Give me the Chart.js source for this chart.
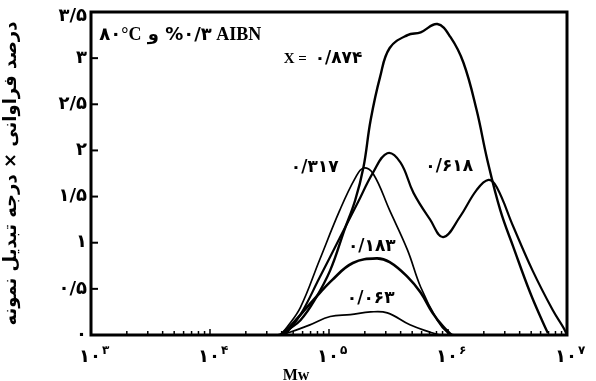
<!DOCTYPE html>
<html>
<head>
<meta charset="utf-8">
<script src="https://cdn.jsdelivr.net/npm/chart.js@4"></script>
<style>
  html, body { margin: 0; padding: 0; background: #fff; }
  #wrap { width: 596px; height: 381px; }
</style>
</head>
<body>
<div id="wrap"><canvas id="mwChart" width="596" height="381"></canvas></div>
<script>
// log10(Mw) and (frequency % x conversion)
const mw874 = [4.60, 4.65, 4.76, 4.88, 5.01, 5.13, 5.22, 5.29, 5.35, 5.43, 5.51, 5.66, 5.77, 5.91, 6.02, 6.13, 6.24, 6.33, 6.44, 6.55, 6.69, 6.80, 6.84];
const val874 = [0, 0.05, 0.16, 0.38, 0.70, 1.14, 1.46, 1.82, 2.33, 2.80, 3.11, 3.25, 3.28, 3.37, 3.23, 2.95, 2.44, 1.90, 1.35, 0.95, 0.46, 0.13, 0.02];

const mw618 = [4.63, 4.76, 4.92, 5.09, 5.24, 5.37, 5.49, 5.60, 5.71, 5.85, 5.96, 6.10, 6.24, 6.34, 6.41, 6.55, 6.71, 6.88, 6.97, 7.0];
const val618 = [0, 0.22, 0.62, 1.05, 1.43, 1.76, 1.97, 1.87, 1.54, 1.25, 1.06, 1.28, 1.57, 1.68, 1.60, 1.17, 0.70, 0.27, 0.08, 0];

const mw317 = [4.59, 4.65, 4.76, 4.92, 5.09, 5.22, 5.29, 5.37, 5.51, 5.66, 5.77, 5.91, 6.0, 6.06];
const val317 = [0, 0.09, 0.30, 0.81, 1.35, 1.70, 1.81, 1.75, 1.35, 0.92, 0.52, 0.16, 0.02, 0];

const mw183 = [4.59, 4.67, 4.87, 5.03, 5.20, 5.40, 5.51, 5.66, 5.77, 5.87, 5.96, 6.03];
const val183 = [0, 0.09, 0.38, 0.60, 0.78, 0.83, 0.79, 0.63, 0.46, 0.24, 0.09, 0];

const mw063 = [4.56, 4.67, 4.84, 5.01, 5.18, 5.35, 5.49, 5.68, 5.85, 5.93];
const val063 = [0, 0.03, 0.11, 0.20, 0.22, 0.25, 0.24, 0.11, 0.03, 0];

const yTicks = [0, 0.5, 1, 1.5, 2, 2.5, 3, 3.5];
const yTickLabels = ['۰', '۰/۵', '۱', '۱/۵', '۲', '۲/۵', '۳', '۳/۵'];
const xDecades = [3, 4, 5, 6, 7];
const xBase = '۱۰';
const xExponents = ['۳', '۴', '۵', '۶', '۷'];
const yTitle = 'درصد فراوانی × درجه تبدیل نمونه';
const xTitle = 'Mw';

// curve labels: text + anchor in data units
const curveLabels = [
  { text: '۰/۳۱۷', x: 4.88, y: 1.81 },
  { text: '۰/۶۱۸', x: 6.01, y: 1.82 },
  { text: '۰/۱۸۳', x: 5.36, y: 0.96 },
  { text: '۰/۰۶۳', x: 5.35, y: 0.40 }
];

function pts(xs, ys) { return xs.map((x, i) => ({ x: x, y: ys[i] })); }

function curve(xs, ys, w) {
  return {
    data: pts(xs, ys),
    borderColor: '#000',
    borderWidth: w,
    pointRadius: 0,
    fill: false,
    showLine: true,
    tension: 0.4
  };
}

const PERSIAN = 'bold 18px "DejaVu Sans"';
const SERIF = 'bold 18px "Liberation Serif"';

// frame, tick marks, tick labels and text on the plot
const decorPlugin = {
  id: 'decor',
  afterDatasetsDraw(chart) {
    const ctx = chart.ctx;
    const a = chart.chartArea;
    const xs = chart.scales.x, ys = chart.scales.y;
    ctx.save();
    ctx.strokeStyle = '#000';
    ctx.fillStyle = '#000';

    // y tick marks pointing inward
    ctx.lineWidth = 2;
    for (let v = 0.5; v < 3.5; v += 0.5) {
      const py = ys.getPixelForValue(v);
      ctx.beginPath(); ctx.moveTo(a.left, py); ctx.lineTo(a.left + 7, py); ctx.stroke();
    }
    // x minor ticks (log decades)
    ctx.lineWidth = 1.5;
    for (let d = 3; d < 7; d++) {
      for (let k = 1; k <= 9; k++) {
        const px = xs.getPixelForValue(d + Math.log10(k));
        const len = k === 1 ? 6 : 4;
        ctx.beginPath(); ctx.moveTo(px, a.bottom); ctx.lineTo(px, a.bottom - len); ctx.stroke();
      }
    }

    // frame
    ctx.lineWidth = 3;
    ctx.strokeRect(a.left, a.top, a.right - a.left, a.bottom - a.top);

    ctx.direction = 'ltr';

    // y tick labels
    ctx.font = PERSIAN;
    ctx.letterSpacing = '5px';
    ctx.textAlign = 'right';
    ctx.textBaseline = 'middle';
    yTicks.forEach((v, i) => {
      let py = ys.getPixelForValue(v);
      if (i === yTicks.length - 1) py += 4;
      ctx.fillText(yTickLabels[i], a.left - 4, py);
    });

    // x tick labels 10^n
    ctx.textBaseline = 'alphabetic';
    xDecades.forEach((d, i) => {
      const px = xs.getPixelForValue(d) + 4;
      ctx.font = PERSIAN;
      ctx.letterSpacing = '5px';
      ctx.textAlign = 'right';
      ctx.fillText(xBase, px + 6, a.bottom + 27);
      ctx.font = 'bold 12px "DejaVu Sans"';
      ctx.letterSpacing = '0px';
      ctx.textAlign = 'left';
      ctx.fillText(xExponents[i], px + 7, a.bottom + 19);
    });

    // x title
    ctx.font = 'bold 16px "Liberation Serif"';
    ctx.textAlign = 'center';
    ctx.fillText(xTitle, 296, a.bottom + 45);

    // header text: 80°C و %0.3 AIBN
    ctx.textAlign = 'left';
    let cx = xs.getPixelForValue(3.07);
    const hy = ys.getPixelForValue(3.27) + 7;
    const parts = [
      ['۸۰', PERSIAN, '2px'], ['°C', SERIF, '0px'], [' و ', PERSIAN, '0px'],
      ['%۰/۳', PERSIAN, '2px'], [' AIBN', SERIF, '0px']
    ];
    parts.forEach(p => {
      ctx.font = p[1];
      ctx.letterSpacing = p[2];
      ctx.fillText(p[0], cx, hy);
      cx += ctx.measureText(p[0]).width;
    });

    // X = 0.874
    let lx = xs.getPixelForValue(4.62);
    const ly = ys.getPixelForValue(3.01) + 6;
    ctx.font = 'bold 15px "Liberation Serif"';
    ctx.letterSpacing = '0px';
    ctx.fillText('X = ', lx, ly);
    lx += ctx.measureText('X = ').width + 4;
    ctx.font = 'bold 17px "DejaVu Sans"';
    ctx.letterSpacing = '3px';
    ctx.fillText('۰/۸۷۴', lx, ly);

    // curve labels
    ctx.textAlign = 'center';
    ctx.textBaseline = 'middle';
    curveLabels.forEach(l => {
      ctx.fillText(l.text, xs.getPixelForValue(l.x), ys.getPixelForValue(l.y));
    });
    ctx.restore();
  }
};

const ctx = document.getElementById('mwChart').getContext('2d');
new Chart(ctx, {
  type: 'scatter',
  data: {
    datasets: [
      curve(mw874, val874, 2.4),
      curve(mw618, val618, 2.2),
      curve(mw317, val317, 1.7),
      curve(mw183, val183, 2.6),
      curve(mw063, val063, 1.7)
    ]
  },
  options: {
    responsive: false,
    animation: false,
    layout: { padding: { top: 12, right: 29, left: 0, bottom: 0 } },
    plugins: { legend: { display: false }, tooltip: { enabled: false } },
    scales: {
      x: {
        type: 'linear', min: 3, max: 7,
        grid: { display: false, drawTicks: false },
        border: { display: false },
        ticks: { display: false },
        afterFit: s => { s.height = 46; }
      },
      y: {
        type: 'linear', min: 0, max: 3.5,
        grid: { display: false, drawTicks: false },
        border: { display: false },
        ticks: { display: false, stepSize: 0.5 },
        title: {
          display: true,
          text: yTitle,
          color: '#000',
          font: { family: 'DejaVu Sans', weight: 'bold', size: 18 },
          padding: { top: 1, bottom: 0 }
        },
        afterFit: s => { s.width = 91; }
      }
    }
  },
  plugins: [decorPlugin]
});
</script>
</body>
</html>
